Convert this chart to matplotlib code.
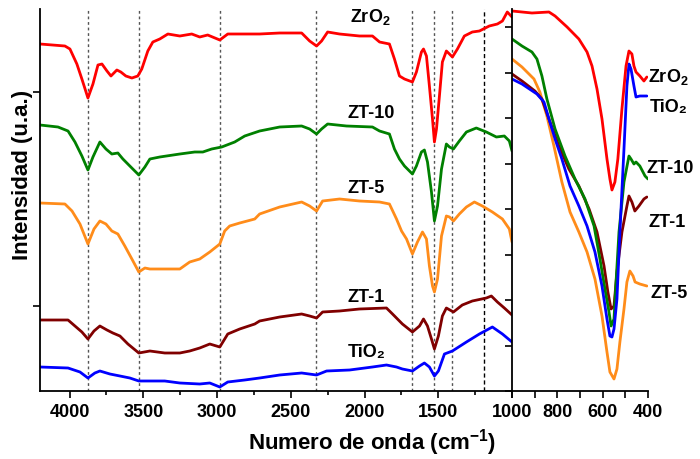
import matplotlib
matplotlib.use("Agg")
import matplotlib.pyplot as plt
from matplotlib.ticker import MultipleLocator, FixedLocator, NullFormatter

plt.rcParams['font.family'] = ['Liberation Sans', 'DejaVu Sans']
plt.rcParams['font.weight'] = 'bold'
plt.rcParams['mathtext.fontset'] = 'custom'
plt.rcParams['mathtext.rm'] = 'Liberation Sans:bold'
plt.rcParams['mathtext.bf'] = 'Liberation Sans:bold'
plt.rcParams['mathtext.default'] = 'bf'

# ---------------- Left panel data (4200-1000 cm-1) ----------------
zr_wn_L = [4200, 4031, 3997, 3950, 3916, 3875, 3841, 3807, 3780, 3746,
           3719, 3679, 3652, 3618, 3577, 3537, 3510, 3469, 3435, 3388,
           3333, 3252, 3171, 3117, 3063, 2981, 2927, 2846, 2711, 2575,
           2426, 2372, 2325, 2291, 2250, 2169, 2034, 1946, 1898,
           1831, 1797, 1763, 1729, 1675, 1648, 1614, 1600, 1580, 1560,
           1539, 1526, 1512, 1492, 1472, 1445, 1424, 1404, 1370, 1323,
           1269, 1221, 1154, 1099, 1065, 1032, 1000]
zr_int_L = [347, 345, 342, 327, 312, 293, 307, 326, 327, 320,
            315, 321, 319, 315, 313, 315, 322, 340, 349, 352,
            357, 355, 357, 354, 356, 351, 357, 357, 357, 358,
            358, 350, 345, 350, 359, 357, 355, 355, 349,
            347, 332, 315, 312, 309, 319, 339, 342, 335, 305,
            272, 249, 262, 295, 329, 340, 337, 334, 342, 355,
            359, 360, 365, 367, 370, 379, 374]

zt10_wn_L = [4200, 4078, 4010, 3963, 3916, 3875, 3841, 3794, 3753, 3713,
             3672, 3638, 3591, 3530, 3489, 3455, 3388, 3252, 3151, 3096,
             3036, 2968, 2880, 2812, 2711, 2575, 2426, 2372, 2325, 2291,
             2250, 2122, 1946, 1898, 1831, 1797, 1763, 1729, 1675, 1648,
             1614, 1594, 1573, 1546, 1526, 1505, 1478, 1445, 1424, 1397,
             1357, 1309, 1242, 1174, 1106, 1052, 1018, 1000]
zt10_int_L = [266, 264, 260, 249, 235, 221, 234, 249, 242, 237,
              238, 232, 225, 216, 224, 232, 234, 237, 239, 239,
              242, 244, 249, 255, 260, 264, 265, 262, 257, 262,
              267, 265, 264, 260, 257, 242, 232, 225, 217, 225,
              239, 241, 229, 199, 170, 185, 222, 247, 244, 242,
              250, 259, 263, 259, 254, 255, 250, 240]

zt5_wn_L = [4200, 4031, 3983, 3929, 3875, 3834, 3794, 3753, 3713, 3672,
            3625, 3577, 3530, 3489, 3455, 3388, 3252, 3185, 3117, 3049,
            2981, 2948, 2914, 2846, 2744, 2711, 2575, 2426, 2372, 2325,
            2284, 2169, 2034, 1898, 1831, 1783, 1749, 1715, 1675, 1641,
            1607, 1580, 1560, 1539, 1526, 1505, 1478, 1445, 1424, 1397,
            1357, 1309, 1255, 1201, 1133, 1065, 1018, 1000]
zt5_int_L = [188, 187, 180, 167, 147, 162, 170, 167, 160, 157,
             145, 132, 119, 123, 122, 122, 122, 129, 132, 139,
             147, 160, 165, 168, 172, 177, 184, 189, 185, 180,
             190, 192, 190, 189, 187, 172, 160, 152, 137, 149,
             159, 152, 125, 105, 99, 112, 155, 175, 174, 170,
             177, 184, 189, 185, 179, 172, 162, 149]

zt1_wn_L = [4200, 4010, 3963, 3916, 3875, 3834, 3794, 3746, 3706, 3658,
            3604, 3530, 3455, 3354, 3252, 3185, 3117, 3049, 2981, 2927,
            2846, 2744, 2711, 2575, 2426, 2372, 2325, 2284, 2169, 2034,
            1851, 1810, 1743, 1675, 1627, 1600, 1573, 1546, 1526, 1499,
            1472, 1445, 1397, 1337, 1269, 1174, 1140, 1099, 1052, 1000]
zt1_int_L = [71, 71, 65, 59, 52, 60, 65, 61, 58, 55,
             47, 38, 40, 38, 38, 40, 43, 47, 44, 57,
             62, 67, 70, 74, 77, 75, 73, 79, 80, 82,
             83, 77, 67, 59, 65, 72, 65, 52, 42, 55,
             75, 83, 79, 86, 90, 93, 95, 89, 83, 76]

ti_wn_L = [4200, 4010, 3929, 3875, 3828, 3794, 3726, 3658, 3591, 3530,
           3455, 3354, 3252, 3117, 3049, 2981, 2927, 2812, 2711, 2575,
           2426, 2325, 2257, 2101, 1946, 1851, 1783, 1743, 1675, 1627,
           1594, 1560, 1526, 1499, 1458, 1404, 1309, 1221, 1133, 1065,
           1000]
ti_int_L = [24, 23, 19, 13, 18, 20, 17, 15, 13, 10,
            10, 10, 8, 7, 8, 4, 9, 11, 13, 16,
            18, 16, 20, 21, 24, 26, 24, 22, 20, 25,
            28, 24, 15, 20, 37, 40, 49, 57, 64, 57,
            49]

# ---------------- Right panel data (1000-400 cm-1) ----------------
zr_wn_R = [1000, 912, 837, 810, 757, 705, 669, 647, 625, 603,
           581, 568, 559, 546, 533, 515, 497, 484, 471, 462,
           453, 436, 418, 405]
zr_int_R = [380, 378, 379, 375, 364, 352, 339, 325, 302, 272,
            232, 212, 201, 209, 232, 282, 325, 340, 337, 325,
            319, 315, 310, 314]

ti_wn_R = [1000, 956, 890, 859, 837, 810, 780, 744, 705, 669,
           634, 603, 581, 568, 559, 550, 537, 524, 506, 493,
           484, 475, 462, 453, 436, 405]
ti_int_R = [312, 307, 297, 289, 272, 252, 232, 205, 185, 165,
            139, 105, 72, 55, 54, 62, 92, 159, 242, 305,
            327, 322, 305, 294, 295, 295]

zt10_wn_R = [1000, 956, 912, 890, 868, 846, 810, 766, 722, 678,
             638, 612, 590, 572, 563, 550, 541, 528, 506, 484,
             475, 462, 453, 436, 413, 400]
zt10_int_R = [352, 345, 339, 332, 315, 292, 262, 235, 212, 192,
              165, 132, 102, 79, 65, 72, 109, 159, 209, 235,
              232, 227, 229, 225, 215, 212]

zt1_wn_R = [1000, 956, 899, 868, 837, 793, 749, 705, 660, 625,
            594, 577, 563, 550, 537, 515, 493, 484, 471, 458,
            440, 418, 405]
zt1_int_R = [317, 310, 300, 292, 272, 245, 222, 205, 182, 159,
             125, 99, 82, 85, 119, 159, 185, 195, 189, 180,
             185, 192, 194]

zt5_wn_R = [1000, 956, 903, 877, 846, 815, 780, 744, 705, 669,
            634, 603, 581, 568, 550, 537, 524, 506, 493, 480,
            466, 457, 436, 405]
zt5_int_R = [332, 324, 312, 299, 275, 245, 209, 179, 159, 139,
             112, 75, 39, 19, 12, 22, 49, 82, 109, 120,
             115, 109, 107, 105]

guide_wn = [3876, 3531, 2977, 2330, 1676, 1526, 1404, 1190]

colors = {'ZrO2': '#ff0000', 'ZT-10': '#008000', 'ZT-5': '#ff8c1a',
          'ZT-1': '#800000', 'TiO2': '#0000ff'}

fig = plt.figure(figsize=(7, 4.6), dpi=100)
axL = fig.add_axes([40/700, 1-392/460, 472/700, 382/460])
axR = fig.add_axes([512/700, 1-392/460, 136/700, 382/460])

lw = 2.0
kw = dict(lw=lw, solid_joinstyle='round', solid_capstyle='round')
axL.plot(zr_wn_L, zr_int_L, color=colors['ZrO2'], **kw)
axL.plot(zt10_wn_L, zt10_int_L, color=colors['ZT-10'], **kw)
axL.plot(zt5_wn_L, zt5_int_L, color=colors['ZT-5'], **kw)
axL.plot(zt1_wn_L, zt1_int_L, color=colors['ZT-1'], **kw)
axL.plot(ti_wn_L, ti_int_L, color=colors['TiO2'], **kw)

axR.plot(zt5_wn_R, zt5_int_R, color=colors['ZT-5'], **kw)
axR.plot(zt1_wn_R, zt1_int_R, color=colors['ZT-1'], **kw)
axR.plot(zt10_wn_R, zt10_int_R, color=colors['ZT-10'], **kw)
axR.plot(ti_wn_R, ti_int_R, color=colors['TiO2'], **kw)
axR.plot(zr_wn_R, zr_int_R, color=colors['ZrO2'], **kw)

for i, w in enumerate(guide_wn):
    if i == len(guide_wn) - 1:
        axL.axvline(w, color='black', lw=1.0, dashes=(3, 2), zorder=0)
    else:
        axL.axvline(w, color='#555555', lw=1.0, dashes=(2, 2), zorder=0)

axL.set_xlim(4200, 1000)
axR.set_xlim(1000, 400)
for ax in (axL, axR):
    ax.set_ylim(0, 382)
    ax.spines['top'].set_visible(False)
    ax.spines['right'].set_visible(False)
    for s in ax.spines.values():
        s.set_linewidth(1.3)
    ax.tick_params(axis='both', which='both', direction='out', width=1.2,
                   labelsize=13)
    ax.tick_params(axis='both', which='major', length=5)
    ax.tick_params(axis='both', which='minor', length=3)

axL.xaxis.set_major_locator(FixedLocator([4000, 3500, 3000, 2500, 2000, 1500, 1000]))
axL.xaxis.set_minor_locator(MultipleLocator(250))
axL.yaxis.set_major_locator(FixedLocator([85, 299]))
axL.yaxis.set_major_formatter(NullFormatter())

axR.xaxis.set_major_locator(FixedLocator([800, 600, 400]))
axR.xaxis.set_minor_locator(FixedLocator([1000, 900, 700, 500]))
axR.tick_params(axis='x', which='minor', length=5)
axR.yaxis.set_major_locator(FixedLocator([0, 45.5, 91, 136.5, 182, 227.5, 273, 318.5, 364]))
axR.yaxis.set_major_formatter(NullFormatter())
for lab in axL.get_xticklabels() + axR.get_xticklabels():
    lab.set_fontweight('bold')

fs = 13
# left labels
axL.text(1960, 370, 'ZrO$_2$', ha='center', va='baseline', fontsize=fs, fontweight='bold')
axL.text(1952, 274, 'ZT-10', ha='center', va='baseline', fontsize=fs, fontweight='bold')
axL.text(1986, 199, 'ZT-5', ha='center', va='baseline', fontsize=fs, fontweight='bold')
axL.text(1986, 90, 'ZT-1', ha='center', va='baseline', fontsize=fs, fontweight='bold')
axL.text(1986, 35, 'TiO\u2082', ha='center', va='baseline', fontsize=fs, fontweight='bold')
# right labels
axR.text(400, 310, 'ZrO$_2$', ha='left', va='baseline', fontsize=fs, fontweight='bold', clip_on=False)
axR.text(391, 280, 'TiO\u2082', ha='left', va='baseline', fontsize=fs, fontweight='bold', clip_on=False)
axR.text(405, 219, 'ZT-10', ha='left', va='baseline', fontsize=fs, fontweight='bold', clip_on=False)
axR.text(400, 165, 'ZT-1', ha='left', va='baseline', fontsize=fs, fontweight='bold', clip_on=False)
axR.text(391, 94, 'ZT-5', ha='left', va='baseline', fontsize=fs, fontweight='bold', clip_on=False)

fig.text(372/700, 1-443/460, 'Numero de onda (cm$^{-1}$)', ha='center', va='center',
         fontsize=16, fontweight='bold')
fig.text(23/700, 1-175/460, 'Intensidad (u.a.)', ha='center', va='center',
         rotation=90, fontsize=16, fontweight='bold')

fig.savefig('out.png', dpi=100)
